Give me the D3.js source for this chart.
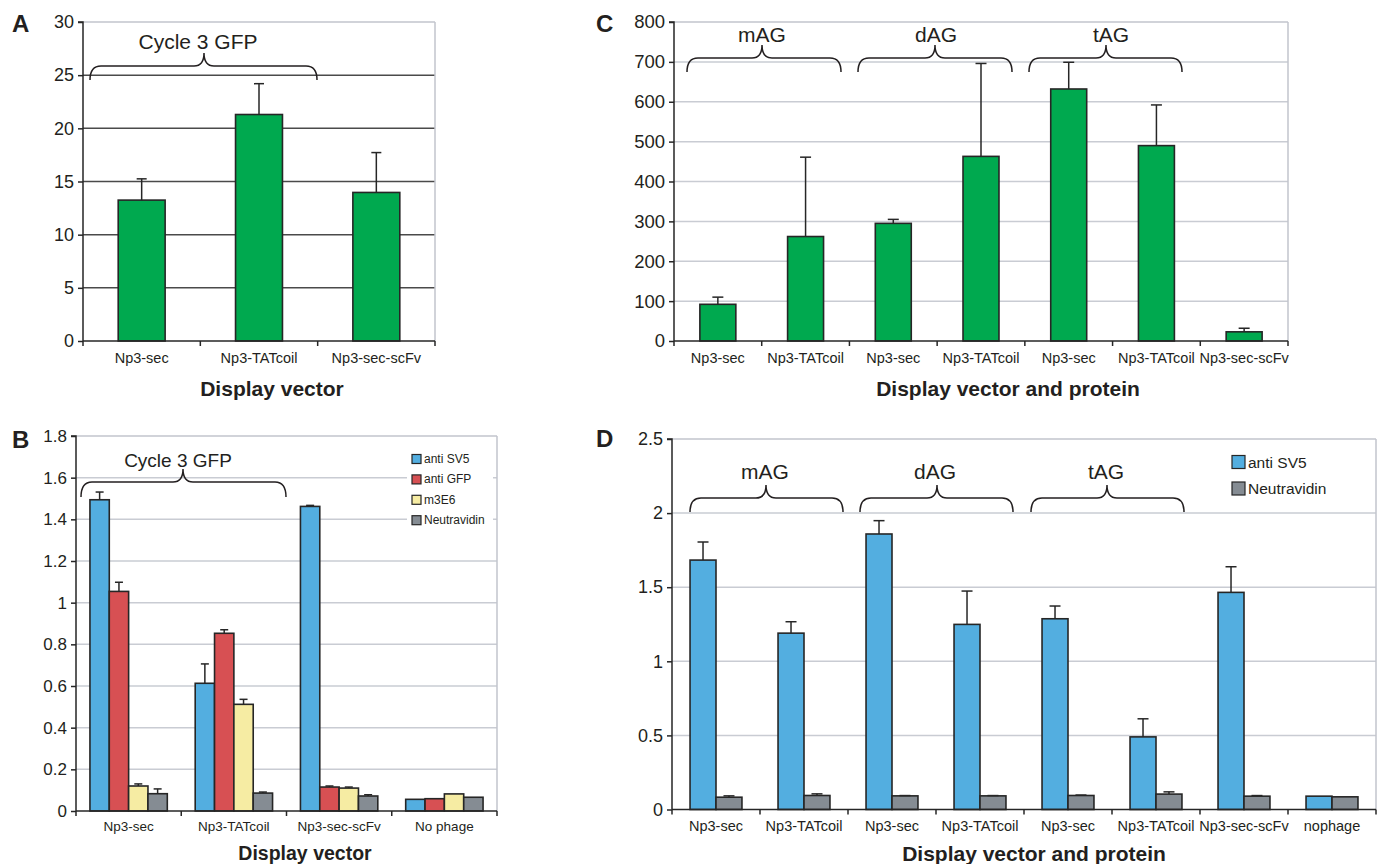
<!DOCTYPE html>
<html><head><meta charset="utf-8">
<script src="https://cdn.jsdelivr.net/npm/d3@7"></script>
<style>body{margin:0;background:#fff;} svg{display:block;font-family:"Liberation Sans",Arial,Helvetica,sans-serif;}</style>
</head><body>
<svg id="chart" width="1377" height="864"></svg>
<script>
// ---------- DATA ----------
const aCategories = ["Np3-sec", "Np3-TATcoil", "Np3-sec-scFv"];
const aValues = [13.25, 21.3, 13.97];
const aErrors = [2.0, 2.9, 3.75];

const cCategories = ["Np3-sec", "Np3-TATcoil", "Np3-sec", "Np3-TATcoil", "Np3-sec", "Np3-TATcoil", "Np3-sec-scFv"];
const cValues = [92, 262, 295, 463, 632, 490, 23];
const cErrors = [18, 199, 10, 233, 67, 102, 9];

const bCategories = ["Np3-sec", "Np3-TATcoil", "Np3-sec-scFv", "No phage"];
const bSeriesNames = ["anti SV5", "anti GFP", "m3E6", "Neutravidin"];
const bAntiSV5 = [1.494, 0.613, 1.462, 0.056];
const bAntiSV5Err = [0.037, 0.093, 0.005, 0];
const bAntiGFP = [1.054, 0.853, 0.115, 0.059];
const bAntiGFPErr = [0.044, 0.017, 0.005, 0];
const bM3E6 = [0.12, 0.512, 0.11, 0.082];
const bM3E6Err = [0.01, 0.024, 0.005, 0];
const bNeutravidin = [0.083, 0.086, 0.072, 0.066];
const bNeutravidinErr = [0.023, 0.005, 0.006, 0];

const dCategories = ["Np3-sec", "Np3-TATcoil", "Np3-sec", "Np3-TATcoil", "Np3-sec", "Np3-TATcoil", "Np3-sec-scFv", "nophage"];
const dSeriesNames = ["anti SV5", "Neutravidin"];
const dAntiSV5 = [1.683, 1.19, 1.859, 1.249, 1.287, 0.49, 1.465, 0.09];
const dAntiSV5Err = [0.122, 0.077, 0.09, 0.225, 0.086, 0.122, 0.173, 0];
const dNeutravidin = [0.083, 0.0945, 0.092, 0.092, 0.0945, 0.104, 0.09, 0.0855];
const dNeutravidinErr = [0.009, 0.011, 0.002, 0.002, 0.003, 0.015, 0.004, 0];

const aTicks = [0, 5, 10, 15, 20, 25, 30];
const cTicks = [0, 100, 200, 300, 400, 500, 600, 700, 800];
const bTicks = [0, 0.2, 0.4, 0.6, 0.8, 1, 1.2, 1.4, 1.6, 1.8];
const dTicks = [0, 0.5, 1, 1.5, 2, 2.5];

const GREEN = "#00a94f", BLUE = "#53aee0", RED = "#d75053", YELLOW = "#f6eca3", GRAY = "#858c93";

// ---------- DRAW ----------
const svg = d3.select("#chart");
const fmt = d => String(+d.toFixed(2));
const INK = "#231f20", EDGE = "#262626";

function panel(cfg) {
  const g = svg.append("g");
  const x = d3.scaleBand().domain(d3.range(cfg.categories.length)).range([cfg.x0, cfg.x1]).padding(0);
  const y = d3.scaleLinear().domain([0, cfg.max]).range([cfg.yBot, cfg.yTop]);
  const groupW = x.bandwidth() * cfg.groupFrac;
  const xs = d3.scaleBand().domain(d3.range(cfg.series.length))
    .range([(x.bandwidth() - groupW) / 2, (x.bandwidth() + groupW) / 2]).padding(0);

  // gridlines
  g.selectAll(".grid").data(cfg.ticks.filter(t => t > 0)).join("line")
    .attr("x1", cfg.x0).attr("x2", cfg.x1)
    .attr("y1", d => y(d)).attr("y2", d => y(d))
    .attr("stroke", d => (d === cfg.max ? "#c2c5cc" : cfg.gridColor)).attr("stroke-width", 1.5);
  // right border
  g.append("line").attr("x1", cfg.x1).attr("x2", cfg.x1).attr("y1", y(cfg.max)).attr("y2", cfg.yBot)
    .attr("stroke", "#c2c5cc").attr("stroke-width", 1.5);

  // legend background
  if (cfg.legend) {
    const L = cfg.legend;
    g.append("rect").attr("x", L.bx).attr("y", L.by).attr("width", L.bw).attr("height", L.bh).attr("fill", "#fff");
  }

  // bars
  cfg.series.forEach((s, si) => {
    const gs = g.append("g");
    gs.selectAll("rect").data(s.values).join("rect")
      .attr("x", (d, i) => x(i) + xs(si))
      .attr("width", xs.bandwidth())
      .attr("y", d => y(d))
      .attr("height", d => cfg.yBot - y(d))
      .attr("fill", s.color).attr("stroke", EDGE).attr("stroke-width", 1.6);
    const errs = s.errors.map((e, i) => ({ i, v: s.values[i], e })).filter(o => o.e > 0);
    gs.selectAll(".ev").data(errs).join("line")
      .attr("x1", o => x(o.i) + xs(si) + xs.bandwidth() / 2)
      .attr("x2", o => x(o.i) + xs(si) + xs.bandwidth() / 2)
      .attr("y1", o => y(o.v)).attr("y2", o => y(o.v + o.e))
      .attr("stroke", EDGE).attr("stroke-width", 1.5);
    gs.selectAll(".ec").data(errs).join("line")
      .attr("x1", o => x(o.i) + xs(si) + xs.bandwidth() / 2 - cfg.cap / 2)
      .attr("x2", o => x(o.i) + xs(si) + xs.bandwidth() / 2 + cfg.cap / 2)
      .attr("y1", o => y(o.v + o.e)).attr("y2", o => y(o.v + o.e))
      .attr("stroke", EDGE).attr("stroke-width", 1.5);
  });

  // y axis
  const ya = g.append("g").attr("transform", `translate(${cfg.x0},0)`)
    .call(d3.axisLeft(y).tickValues(cfg.ticks).tickFormat(fmt).tickSize(5).tickPadding(4));
  ya.select(".domain").attr("stroke", EDGE).attr("stroke-width", 1.5).attr("d", `M-5,${cfg.yTop}H0V${cfg.yBot}`);
  ya.selectAll(".tick line").attr("stroke", EDGE).attr("stroke-width", 1.5);
  ya.selectAll(".tick text").attr("font-size", cfg.yFont).attr("fill", INK)
    .attr("font-family", "Liberation Sans, Arial, sans-serif");

  // x axis
  const xa = g.append("g");
  xa.append("line").attr("x1", cfg.x0).attr("x2", cfg.x1).attr("y1", cfg.yBot).attr("y2", cfg.yBot)
    .attr("stroke", EDGE).attr("stroke-width", 1.5);
  const bounds = d3.range(cfg.categories.length + 1).map(i => i < cfg.categories.length ? x(i) : cfg.x1);
  xa.selectAll(".xt").data(bounds).join("line")
    .attr("x1", d => d).attr("x2", d => d).attr("y1", cfg.yBot).attr("y2", cfg.yBot + 5)
    .attr("stroke", EDGE).attr("stroke-width", 1.5);
  xa.selectAll("text").data(cfg.categories).join("text")
    .attr("x", (d, i) => x(i) + x.bandwidth() / 2).attr("y", cfg.yBot + cfg.xLabDy)
    .attr("text-anchor", "middle").attr("dominant-baseline", "central")
    .attr("font-size", cfg.xFont).attr("fill", INK).text(d => d);

  // axis title
  g.append("text").attr("x", cfg.title[0]).attr("y", cfg.title[1])
    .attr("text-anchor", "middle").attr("dominant-baseline", "central")
    .attr("font-size", cfg.titleFont).attr("font-weight", "bold").attr("fill", INK).text(cfg.titleText);

  // panel letter
  g.append("text").attr("x", cfg.letter[0]).attr("y", cfg.letter[1])
    .attr("font-size", 24).attr("font-weight", "bold").attr("fill", INK).text(cfg.letterText);

  // braces
  cfg.braces.forEach(b => {
    const r = 11, rt = 10;
    const p = `M${b.x1},${b.yEnd} Q${b.x1},${b.yH} ${b.x1 + r},${b.yH} L${b.tip - rt},${b.yH} Q${b.tip},${b.yH} ${b.tip},${b.yTip}` +
      ` Q${b.tip},${b.yH} ${b.tip + rt},${b.yH} L${b.x2 - r},${b.yH} Q${b.x2},${b.yH} ${b.x2},${b.yEnd}`;
    g.append("path").attr("d", p).attr("fill", "none").attr("stroke", INK).attr("stroke-width", 1.5);
    g.append("text").attr("x", b.lx).attr("y", b.ly).attr("text-anchor", "middle")
      .attr("font-size", b.fs).attr("fill", INK).text(b.label);
  });

  // legend
  if (cfg.legend) {
    const L = cfg.legend;
    const lg = g.append("g");
    lg.selectAll("rect").data(cfg.series).join("rect")
      .attr("x", L.x).attr("y", (d, i) => L.y0 + i * L.dy - L.sq / 2)
      .attr("width", L.sq).attr("height", L.sq)
      .attr("fill", d => d.color).attr("stroke", EDGE).attr("stroke-width", 1.2);
    lg.selectAll("text").data(cfg.series).join("text")
      .attr("x", L.x + L.sq + 3).attr("y", (d, i) => L.y0 + i * L.dy)
      .attr("dominant-baseline", "central").attr("font-size", L.fs).attr("fill", INK)
      .text(d => d.name);
  }
}

// Panel A
panel({
  categories: aCategories, max: 30, ticks: aTicks,
  series: [{ name: "", values: aValues, errors: aErrors, color: GREEN }],
  x0: 83, x1: 435, yTop: 22, yBot: 341, groupFrac: 0.40, cap: 10,
  gridColor: "#4a4a4a", yFont: 18, xFont: 14.5, xLabDy: 17,
  title: [272, 388], titleFont: 21, titleText: "Display vector", letter: [12, 32], letterText: "A",
  braces: [{ x1: 90, x2: 317, tip: 204, yEnd: 80, yH: 66, yTip: 53, label: "Cycle 3 GFP", lx: 198, ly: 49, fs: 21 }]
});

// Panel C
panel({
  categories: cCategories, max: 800, ticks: cTicks,
  series: [{ name: "", values: cValues, errors: cErrors, color: GREEN }],
  x0: 674, x1: 1288, yTop: 22, yBot: 341, groupFrac: 0.41, cap: 11,
  gridColor: "#c9ccd3", yFont: 18.5, xFont: 14.5, xLabDy: 17,
  title: [1008, 388], titleFont: 21, titleText: "Display vector and protein", letter: [596, 32], letterText: "C",
  braces: [
    { x1: 687, x2: 841, tip: 762, yEnd: 72, yH: 58, yTip: 45, label: "mAG", lx: 762, ly: 42, fs: 21 },
    { x1: 858, x2: 1012, tip: 935, yEnd: 72, yH: 58, yTip: 45, label: "dAG", lx: 936, ly: 42, fs: 21 },
    { x1: 1029, x2: 1182, tip: 1106, yEnd: 72, yH: 58, yTip: 45, label: "tAG", lx: 1111, ly: 42, fs: 21 }
  ]
});

// Panel B
panel({
  categories: bCategories, max: 1.8, ticks: bTicks,
  series: [
    { name: bSeriesNames[0], values: bAntiSV5, errors: bAntiSV5Err, color: BLUE },
    { name: bSeriesNames[1], values: bAntiGFP, errors: bAntiGFPErr, color: RED },
    { name: bSeriesNames[2], values: bM3E6, errors: bM3E6Err, color: YELLOW },
    { name: bSeriesNames[3], values: bNeutravidin, errors: bNeutravidinErr, color: GRAY }
  ],
  x0: 76, x1: 497, yTop: 436, yBot: 811, groupFrac: 0.735, cap: 8,
  gridColor: "#c9ccd3", yFont: 17, xFont: 13.5, xLabDy: 15,
  title: [305, 853], titleFont: 19.5, titleText: "Display vector", letter: [12, 448], letterText: "B",
  braces: [{ x1: 81, x2: 286, tip: 183, yEnd: 497, yH: 482, yTip: 469, label: "Cycle 3 GFP", lx: 178, ly: 467, fs: 19 }],
  legend: { x: 412, y0: 459, dy: 20.4, sq: 9, fs: 12, bx: 407, by: 447, bw: 86, bh: 84 }
});

// Panel D
panel({
  categories: dCategories, max: 2.5, ticks: dTicks,
  series: [
    { name: dSeriesNames[0], values: dAntiSV5, errors: dAntiSV5Err, color: BLUE },
    { name: dSeriesNames[1], values: dNeutravidin, errors: dNeutravidinErr, color: GRAY }
  ],
  x0: 672, x1: 1376, yTop: 439, yBot: 809.5, groupFrac: 0.59, cap: 11,
  gridColor: "#c9ccd3", yFont: 18, xFont: 14.5, xLabDy: 16,
  title: [1034, 853], titleFont: 21, titleText: "Display vector and protein", letter: [596, 447], letterText: "D",
  braces: [
    { x1: 690, x2: 843, tip: 766, yEnd: 512, yH: 498, yTip: 485, label: "mAG", lx: 765, ly: 479, fs: 21 },
    { x1: 860, x2: 1013, tip: 937, yEnd: 512, yH: 498, yTip: 485, label: "dAG", lx: 935, ly: 479, fs: 21 },
    { x1: 1031, x2: 1184, tip: 1107, yEnd: 512, yH: 498, yTip: 485, label: "tAG", lx: 1106, ly: 479, fs: 21 }
  ],
  legend: { x: 1232, y0: 462, dy: 26.5, sq: 13, fs: 15.5, bx: 1225, by: 446, bw: 140, bh: 56 }
});
</script>
</body></html>
